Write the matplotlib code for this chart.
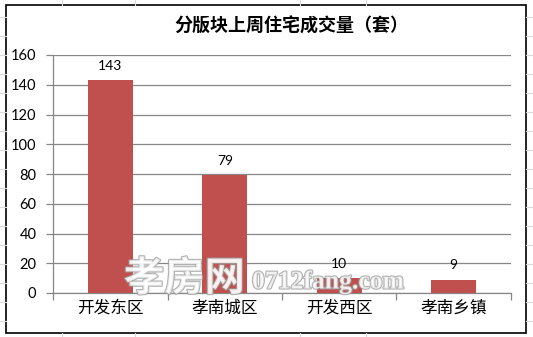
import matplotlib
matplotlib.use("Agg")
import matplotlib.pyplot as plt
import matplotlib.patheffects as pe
from matplotlib.lines import Line2D
from matplotlib.patches import Rectangle

# data
districts = ["开发东区", "孝南城区", "开发西区", "孝南乡镇"]
sales = [143, 79, 10, 9]
yticks = [0, 20, 40, 60, 80, 100, 120, 140, 160]
title = "分版块上周住宅成交量（套）"
watermark_cn = "孝房网"
watermark_en = "0712fang.com"

W, H = 533, 337
CJK = ["Noto Sans CJK SC", "DejaVu Sans"]
NUM = ["Lato", "DejaVu Sans"]
bar_color = "#C0504D"
grid_color = "#878787"

fig = plt.figure(figsize=(W / 100, H / 100), dpi=100)
fig.patch.set_facecolor("white")


def fx(px):
    return px / W


def fy(py):
    return 1 - py / H


# spreadsheet cells showing around the chart
sheet = "#dadada"
for y in range(17, H, 19):
    fig.add_artist(Line2D([0, fx(6)], [fy(y), fy(y)], color=sheet, lw=0.8))
    fig.add_artist(Line2D([fx(526), 1], [fy(y), fy(y)], color=sheet, lw=0.8))
for x in [62, 135, 300, 366]:
    fig.add_artist(Line2D([fx(x), fx(x)], [fy(0), fy(5)], color=sheet, lw=0.8))
    fig.add_artist(Line2D([fx(x), fx(x)], [fy(333), 0], color=sheet, lw=0.8))

# chart frame
fig.add_artist(Rectangle((fx(6), fy(333)), fx(526) - fx(6), fy(5) - fy(333),
                         fill=True, facecolor="white", edgecolor="black", lw=1.2,
                         zorder=0))

ax = fig.add_axes([fx(53), fy(293), fx(511) - fx(53), fy(55) - fy(293)])
ax.set_facecolor("none")

xpos = list(range(len(districts)))
bars = ax.bar(xpos, sales, width=0.39, color=bar_color, zorder=3)
for b, v in zip(bars, sales):
    ax.annotate(str(v), (b.get_x() + b.get_width() / 2, v),
                xytext=(0, 6), textcoords="offset points",
                ha="center", va="bottom", fontsize=10, family=NUM, color="black")

ax.set_xlim(-0.5, len(districts) - 0.5)
ax.set_ylim(0, 160)
ax.set_yticks(yticks)
ax.set_yticklabels([str(t) for t in yticks], family=NUM, fontsize=10.5)
ax.yaxis.grid(True, color=grid_color, lw=0.9, zorder=0)
ax.tick_params(axis="y", length=5, color=grid_color, width=0.9, pad=7)

ax.set_xticks([i - 0.5 for i in range(len(districts) + 1)])
ax.set_xticklabels([])
ax.set_xticks(xpos, minor=True)
ax.set_xticklabels(districts, minor=True, family=CJK, fontsize=12)
ax.tick_params(axis="x", which="major", length=5, color=grid_color, width=0.9)
ax.tick_params(axis="x", which="minor", length=0, pad=5)

for s in ["top", "right"]:
    ax.spines[s].set_visible(False)
for s in ["left", "bottom"]:
    ax.spines[s].set_color(grid_color)
    ax.spines[s].set_linewidth(0.9)

fig.text(fx(291), fy(26), title, ha="center", va="center",
         family=CJK, fontsize=13, fontweight="bold")

# site watermark
outline = [pe.withStroke(linewidth=1.6, foreground="#9a9a9a")]
fig.text(fx(124), fy(279), watermark_cn, ha="left", va="center", family=CJK,
         fontsize=29, fontweight="bold", color="white", alpha=0.75,
         path_effects=outline, zorder=10)
fig.text(fx(252), fy(282), watermark_en, ha="left", va="center",
         family=["Liberation Serif", "DejaVu Serif"], fontsize=18.5,
         fontweight="bold", color="white", alpha=0.75,
         path_effects=outline, zorder=10)

fig.savefig("out.png", dpi=100)
